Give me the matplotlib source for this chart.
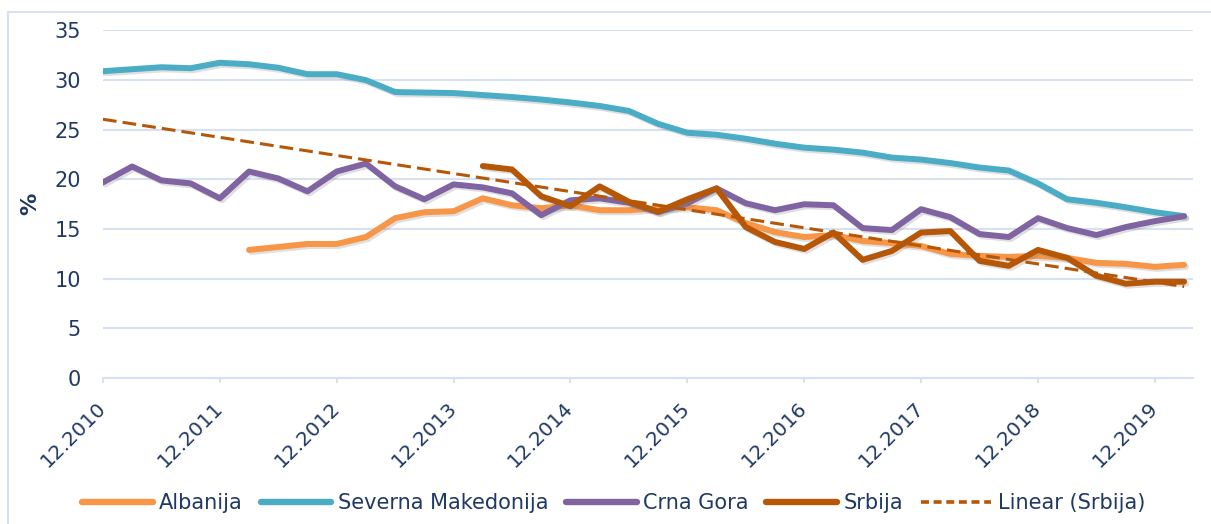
import numpy as np
import matplotlib
matplotlib.use("Agg")
import matplotlib.pyplot as plt
import matplotlib.patheffects as pe
import matplotlib.transforms as mtransforms
from matplotlib.lines import Line2D
from matplotlib.patches import Rectangle

# quarterly observations, 12.2010 .. 03.2020
year_labels = ['12.2010', '12.2011', '12.2012', '12.2013', '12.2014',
               '12.2015', '12.2016', '12.2017', '12.2018', '12.2019']

albanija = [None, None, None, None, None,
            12.9, 13.2, 13.5, 13.5, 14.2, 16.1, 16.7, 16.8, 18.1, 17.4,
            17.1, 17.4, 16.9, 16.9, 17.1, 17.2, 16.9, 15.6, 14.7, 14.2,
            14.4, 13.8, 13.6, 13.3, 12.5, 12.3, 12.2, 12.3, 12.1, 11.6,
            11.5, 11.2, 11.4]

severna_makedonija = [30.9, 31.1, 31.3, 31.2, 31.75, 31.6, 31.25, 30.6, 30.6, 30.0,
                      28.8, 28.75, 28.7, 28.5, 28.3, 28.05, 27.75, 27.4, 26.9, 25.6,
                      24.7, 24.5, 24.1, 23.6, 23.2, 23.0, 22.7, 22.2, 22.0, 21.65,
                      21.2, 20.9, 19.6, 18.0, 17.65, 17.2, 16.7, 16.3]

crna_gora = [19.7, 21.3, 19.9, 19.6, 18.1, 20.8, 20.1, 18.8, 20.8, 21.6,
             19.3, 18.0, 19.5, 19.2, 18.6, 16.4, 17.9, 18.1, 17.65, 16.7,
             17.6, 19.1, 17.6, 16.9, 17.5, 17.4, 15.1, 14.9, 17.0, 16.2,
             14.5, 14.2, 16.1, 15.1, 14.4, 15.2, 15.8, 16.3]

srbija = [None] * 13 + [21.35, 21.0, 18.3, 17.3, 19.3, 17.75, 16.75, 18.0, 19.1, 15.2,
                        13.7, 13.0, 14.65, 11.9, 12.8, 14.65, 14.8, 11.8, 11.3, 12.9,
                        12.1, 10.3, 9.5, 9.7, 9.7]

n = len(severna_makedonija)
x = np.arange(n)


def arr(vals):
    return np.array([np.nan if v is None else v for v in vals], dtype=float)


text_color = '#1F3864'
grid_color = '#D6E1F2'
trend_color = '#B65708'

plt.rcParams['font.family'] = 'DejaVu Sans'

fig = plt.figure(figsize=(12.11, 5.24), dpi=100)
ax = fig.add_axes([0.085, 0.2786, 0.9005, 0.6632])

shadow = [pe.SimpleLineShadow(offset=(1.5, -1.5), alpha=0.25, shadow_color='gray'), pe.Normal()]

series = [
    ('Albanija', albanija, '#F79646'),
    ('Severna Makedonija', severna_makedonija, '#4BACC6'),
    ('Crna Gora', crna_gora, '#8064A2'),
    ('Srbija', srbija, '#B65708'),
]
handles = []
for name, vals, col in series:
    ax.plot(x, arr(vals), color=col, linewidth=4.3,
            solid_capstyle='round', solid_joinstyle='round', path_effects=shadow)
    handles.append(Line2D([], [], color=col, linewidth=4.6, solid_capstyle='round', label=name))

# linear trend for Srbija
sr = arr(srbija)
ok = ~np.isnan(sr)
k, b = np.polyfit(x[ok], sr[ok], 1)
ax.plot(x, k * x + b, color=trend_color, linewidth=2.2, linestyle=(0, (4.5, 2.0)))
handles.append(Line2D([], [], color=trend_color, linewidth=2.6,
                      linestyle=(0, (2.2, 1.3)), label='Linear (Srbija)'))

ax.set_xlim(0, 37.32)
ax.set_ylim(0, 35)
ax.set_yticks(range(0, 36, 5))
ax.set_xticks(x[::4])
ax.set_xticklabels(year_labels, rotation=45, ha='right', va='center',
                   rotation_mode='anchor')
shift = mtransforms.ScaledTranslation(0.05, 0, fig.dpi_scale_trans)
for lbl in ax.get_xticklabels():
    lbl.set_transform(lbl.get_transform() + shift)
ax.tick_params(axis='y', length=0, pad=16, labelsize=15, labelcolor=text_color)
ax.tick_params(axis='x', length=3.6, width=1.5, color=grid_color, pad=16,
               labelsize=14.5, labelcolor=text_color)
ax.grid(axis='y', color=grid_color, linewidth=1.5)
ax.set_axisbelow(True)
for s in ['top', 'right', 'left']:
    ax.spines[s].set_visible(False)
ax.spines['bottom'].set_color(grid_color)
ax.spines['bottom'].set_linewidth(1.5)
ax.set_ylabel('%', fontsize=16, fontweight='bold', color=text_color, labelpad=10)

fig.legend(handles=handles, loc='center', bbox_to_anchor=(0.5066, 0.04), ncol=5,
           frameon=False, fontsize=15, handlelength=3.4, columnspacing=0.85,
           handletextpad=0.3, labelcolor=text_color)

# outer chart border
fig.patches.append(Rectangle((8 / 1211, -0.1), 1.2, 1 - 12 / 524 + 0.1,
                             transform=fig.transFigure, fill=False,
                             edgecolor=grid_color, linewidth=1.5))

fig.savefig('out.png', dpi=100)
